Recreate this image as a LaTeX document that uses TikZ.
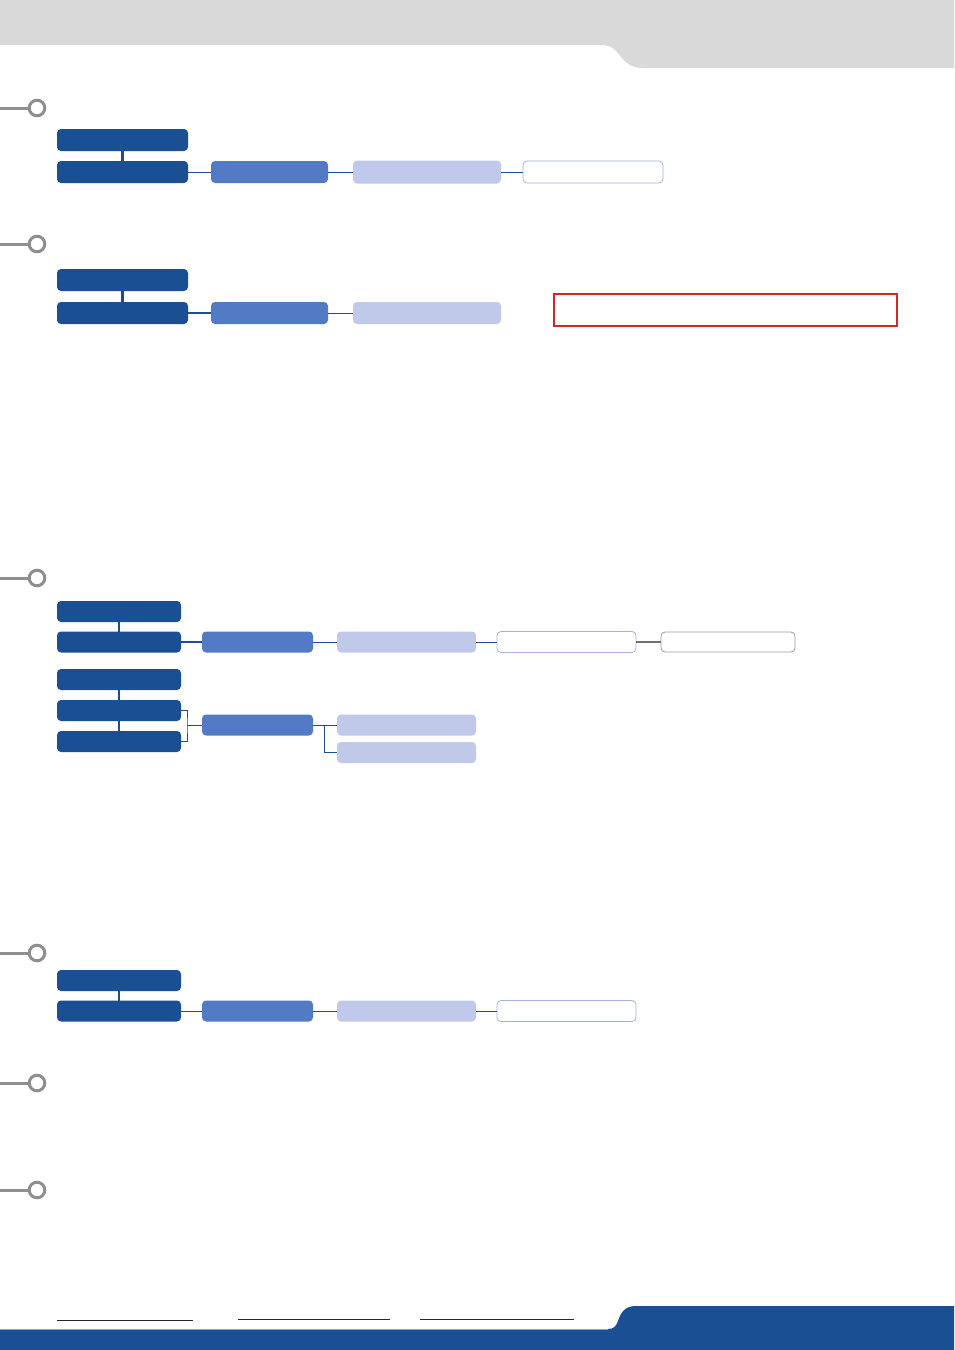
\documentclass[tikz,border=0pt]{standalone}
\begin{document}
\begin{tikzpicture}[x=1pt,y=-1pt,
  box/.style={rounded corners=4pt,inner sep=0pt,outer sep=0pt,minimum height=22pt},
  darkbox/.style={box,fill=cDark},
  midbox/.style={box,fill=cMid},
  lightbox/.style={box,fill=cLight},
  whitebox/.style={box,fill=white,draw=cBorder,line width=0.8pt},
  graybox/.style={box,fill=white,draw=cGray,line width=0.8pt},
  redbox/.style={inner sep=0pt,outer sep=0pt,draw=cRed,line width=1.6pt},
  vlink/.style={draw=cDark,line width=2.4pt},
  thinlink/.style={draw=cDark,line width=1pt},
  thicklink/.style={draw=cDark,line width=2pt},
  graylink/.style={draw=cGrayLink,line width=2pt},
  pinline/.style={draw=cPin,line width=3pt},
  uline/.style={draw=black!85,line width=1pt}
]
\definecolor{cDark}{HTML}{1A4F93}
\definecolor{cMid}{HTML}{537BC5}
\definecolor{cLight}{HTML}{C1C9EB}
\definecolor{cBorder}{HTML}{A4B1E0}
\definecolor{cGray}{HTML}{9A9A9A}
\definecolor{cGrayLink}{HTML}{707070}
\definecolor{cRed}{HTML}{D7262B}
\definecolor{cPin}{HTML}{8F8F8F}
\definecolor{cHead}{HTML}{D9D9D9}
\definecolor{cEdge}{HTML}{8AA5CF}

\useasboundingbox (0,0) rectangle (954,1350);
\fill[white] (0,0) rectangle (954,1350);

% header
\fill[cHead] (0,0) -- (954,0) -- (954,68) -- (643,68)
  .. controls (630,68) and (625,62) .. (618,53)
  .. controls (612,46) and (608,45) .. (600,45) -- (0,45) -- cycle;

% footer
\fill[cDark] (0,1329) -- (608,1329)
  .. controls (614,1329) and (616,1326) .. (618,1321)
  .. controls (621,1312) and (625,1306) .. (636,1306)
  -- (954,1306) -- (954,1350) -- (0,1350) -- cycle;
\draw[cEdge,line width=0.8pt] (0,1329) -- (608,1329);
\draw[uline] (57,1320) -- (193,1320);
\draw[uline] (238,1319) -- (390,1319);
\draw[uline] (420,1319) -- (574,1319);

% bullets
\foreach \yy [count=\i] in {108,244,578,953,1083,1190}{
  \coordinate (p\i) at (37,\yy);
  \draw[pinline] (0,\yy) -- (29,\yy);
  \draw[pinline,fill=white] (p\i) circle (7.8);
}

% section 1
\node[darkbox,minimum width=131pt] (d1a) at (122.5,140) {};
\node[darkbox,minimum width=131pt] (d1b) at (122.5,172) {};
\node[midbox,minimum width=117pt] (m1) at (269.5,172) {};
\node[lightbox,minimum width=148pt,minimum height=23pt] (l1) at (427,172) {};
\node[whitebox,minimum width=140pt] (w1) at (593,172) {};
\draw[vlink] (d1a.south) -- (d1b.north);
\draw[thinlink] (d1b.east) -- (m1.west);
\draw[thinlink] (m1.east) -- (l1.west);
\draw[thinlink] (l1.east) -- (w1.west);

% section 2
\node[darkbox,minimum width=131pt] (d2a) at (122.5,280) {};
\node[darkbox,minimum width=131pt] (d2b) at (122.5,313) {};
\node[midbox,minimum width=117pt] (m2) at (269.5,313) {};
\node[lightbox,minimum width=148pt] (l2) at (427,313) {};
\node[redbox,minimum width=343pt,minimum height=32pt] (r2) at (725.5,310) {};
\draw[vlink] (d2a.south) -- (d2b.north);
\draw[thicklink] (d2b.east) -- (m2.west);
\draw[thinlink] (m2.east) -- (l2.west);

% section 3
\node[darkbox,minimum width=124pt,minimum height=21pt] (d3a) at (119,611.5) {};
\node[darkbox,minimum width=124pt,minimum height=21pt] (d3b) at (119,642) {};
\node[midbox,minimum width=111pt,minimum height=21pt] (m3a) at (257.5,642) {};
\node[lightbox,minimum width=139pt,minimum height=21pt] (l3a) at (406.5,642) {};
\node[whitebox,minimum width=139pt,minimum height=21pt] (w3a) at (566.5,642) {};
\node[graybox,minimum width=134pt,minimum height=20pt] (g3) at (728,642) {};
\draw[vlink] (d3a.south) -- (d3b.north);
\draw[thicklink] (d3b.east) -- (m3a.west);
\draw[thinlink] (m3a.east) -- (l3a.west);
\draw[thinlink] (l3a.east) -- (w3a.west);
\draw[graylink] (w3a.east) -- (g3.west);

\node[darkbox,minimum width=124pt,minimum height=21pt] (d3c) at (119,679.5) {};
\node[darkbox,minimum width=124pt,minimum height=21pt] (d3d) at (119,710.5) {};
\node[darkbox,minimum width=124pt,minimum height=21pt] (d3e) at (119,741.5) {};
\node[midbox,minimum width=111pt,minimum height=21pt] (m3b) at (257.5,725) {};
\node[lightbox,minimum width=139pt,minimum height=21pt] (l3b) at (406.5,725) {};
\node[lightbox,minimum width=139pt,minimum height=21pt] (l3c) at (406.5,752.5) {};
\draw[vlink] (d3c.south) -- (d3d.north);
\draw[vlink] (d3d.south) -- (d3e.north);
\coordinate (b3) at (187,725);
\coordinate (c3) at (324,725);
\draw[thinlink] (d3d.east) -| (b3) |- (d3e.east);
\draw[thinlink] (b3) -- (m3b.west);
\draw[thinlink] (m3b.east) -- (l3b.west);
\draw[thinlink] (c3) |- (l3c.west);

% section 4
\node[darkbox,minimum width=124pt,minimum height=21pt] (d4a) at (119,980.5) {};
\node[darkbox,minimum width=124pt,minimum height=21pt] (d4b) at (119,1011) {};
\node[midbox,minimum width=111pt,minimum height=21pt] (m4) at (257.5,1011) {};
\node[lightbox,minimum width=139pt,minimum height=21pt] (l4) at (406.5,1011) {};
\node[whitebox,minimum width=139pt,minimum height=21pt] (w4) at (566.5,1011) {};
\draw[vlink] (d4a.south) -- (d4b.north);
\draw[thinlink] (d4b.east) -- (m4.west);
\draw[thinlink] (m4.east) -- (l4.west);
\draw[thinlink] (l4.east) -- (w4.west);
\end{tikzpicture}
\end{document}
